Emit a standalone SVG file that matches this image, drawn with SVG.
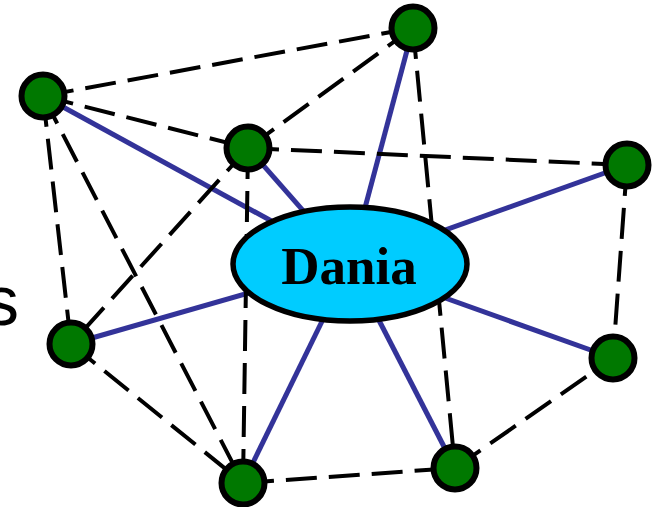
<svg xmlns="http://www.w3.org/2000/svg" width="658" height="507" viewBox="0 0 658 507">
  <style>
    .link { stroke: #333399; stroke-width: 5; fill: none; }
    .tie { stroke: #000; stroke-width: 4; stroke-dasharray: 31 12; fill: none; }
    .node circle { fill: #007800; stroke: #000; stroke-width: 6; }
    .hub ellipse { fill: #00CCFF; stroke: #000; stroke-width: 5.5; }
    .hub text { font-family: "Liberation Serif", "Times New Roman", serif; font-weight: bold; font-size: 53px; fill: #000; }
    .side { font-family: "Liberation Sans", Arial, sans-serif; font-size: 70px; fill: #000; }
  </style>

  <rect width="658" height="507" fill="#fff"/>

  <text class="side" x="19" y="325" text-anchor="end">s</text>

  <!-- spokes from the hub -->
  <g id="spokes">
    <line class="link" x1="350" y1="264" x2="413" y2="28"/>
    <line class="link" x1="350" y1="264" x2="43" y2="96"/>
    <line class="link" x1="350" y1="264" x2="248" y2="148"/>
    <line class="link" x1="350" y1="264" x2="627" y2="165"/>
    <line class="link" x1="350" y1="264" x2="71" y2="344"/>
    <line class="link" x1="350" y1="264" x2="613" y2="358"/>
    <line class="link" x1="350" y1="264" x2="243" y2="483"/>
    <line class="link" x1="350" y1="264" x2="455" y2="468"/>
  </g>

  <!-- dashed ties between outer nodes -->
  <g id="ties">
    <line class="tie" x1="43" y1="96" x2="413" y2="28"/>
    <line class="tie" x1="43" y1="96" x2="248" y2="148"/>
    <line class="tie" x1="43" y1="96" x2="71" y2="344"/>
    <line class="tie" x1="43" y1="96" x2="243" y2="483"/>
    <line class="tie" x1="413" y1="28" x2="248" y2="148"/>
    <line class="tie" x1="413" y1="28" x2="455" y2="468"/>
    <line class="tie" x1="248" y1="148" x2="627" y2="165"/>
    <line class="tie" x1="248" y1="148" x2="71" y2="344"/>
    <line class="tie" x1="248" y1="148" x2="243" y2="483"/>
    <line class="tie" x1="627" y1="165" x2="613" y2="358"/>
    <line class="tie" x1="71" y1="344" x2="243" y2="483"/>
    <line class="tie" x1="243" y1="483" x2="455" y2="468"/>
    <line class="tie" x1="455" y1="468" x2="613" y2="358"/>
  </g>

  <g id="dania" class="hub">
    <ellipse cx="350" cy="264" rx="117" ry="57"/>
    <text x="349" y="284" text-anchor="middle">Dania</text>
  </g>

  <g id="n-top" class="node"><circle cx="413" cy="28" r="21.5"/></g>
  <g id="n-left-top" class="node"><circle cx="43" cy="96" r="21.5"/></g>
  <g id="n-inner" class="node"><circle cx="248" cy="148" r="21.5"/></g>
  <g id="n-right" class="node"><circle cx="627" cy="165" r="21.5"/></g>
  <g id="n-left" class="node"><circle cx="71" cy="344" r="21.5"/></g>
  <g id="n-right-low" class="node"><circle cx="613" cy="358" r="21.5"/></g>
  <g id="n-bottom" class="node"><circle cx="243" cy="483" r="21.5"/></g>
  <g id="n-bottom-right" class="node"><circle cx="455" cy="468" r="21.5"/></g>
</svg>
